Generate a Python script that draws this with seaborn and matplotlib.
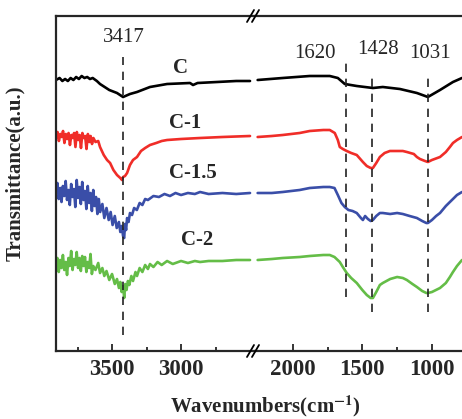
import numpy as np
import matplotlib
matplotlib.use('Agg')
import matplotlib.pyplot as plt
from matplotlib.lines import Line2D
import seaborn as sns
import pandas as pd

# FTIR spectra (wavenumber in cm-1, transmittance in a.u.)
wn_c = [3906, 3880, 3860, 3840, 3820, 3800, 3780, 3760, 3740, 3720, 3700, 3680, 3660, 3640, 3610,
        3587, 3520, 3464, 3420, 3370, 3319, 3225, 3101, 2935, 2913, 2880, 2739, 2600, 2500,
        2252, 2072, 1878, 1734, 1676, 1626, 1540, 1424, 1353, 1230, 1108, 1029, 942, 849, 784]
t_c = [280, 282, 279, 281, 279, 282, 280, 283, 281, 284, 282, 283, 281, 282, 279,
       276, 270, 267, 263, 266, 268, 273, 276, 277, 275, 277, 278, 279, 279,
       280, 282, 284, 284, 282, 276, 274, 272, 273, 271, 267, 263, 270, 278, 282]

wn_c1 = [3906, 3895, 3885, 3875, 3865, 3855, 3845, 3835, 3825, 3815, 3805, 3795, 3785, 3775, 3765,
         3755, 3745, 3735, 3725, 3715, 3705, 3695, 3685, 3675, 3665, 3655, 3645, 3635, 3620, 3600,
         3587, 3560, 3536, 3514, 3490, 3464, 3440, 3428, 3420, 3406, 3391, 3370, 3348, 3319, 3290,
         3260, 3225, 3180, 3140, 3101, 3000, 2862, 2700, 2500,
         2252, 2150, 2072, 1950, 1878, 1780, 1734, 1698, 1676, 1662, 1640, 1612, 1580, 1540, 1496,
         1468, 1440, 1424, 1400, 1374, 1340, 1302, 1250, 1209, 1180, 1130, 1108, 1086, 1050, 1029,
         1000, 942, 900, 871, 849, 820, 784]
t_c1 = [222, 228, 219, 226, 223, 229, 217, 226, 221, 227, 215, 225, 222, 227, 213,
        228, 220, 225, 212, 227, 222, 224, 211, 226, 218, 224, 216, 222, 218, 219,
        213, 205, 200, 197, 190, 185, 182, 180, 183, 184, 187, 195, 200, 203, 209,
        212, 215, 217, 219, 220, 221, 222, 223, 224,
        223, 224, 225, 227, 229, 230, 230, 227, 220, 213, 211, 209, 207, 205, 198,
        194, 192, 192, 197, 203, 207, 209, 209, 209, 208, 206, 203, 201, 199, 198,
        200, 203, 208, 213, 217, 220, 223]

wn_c15 = [3906, 3896, 3886, 3876, 3866, 3856, 3846, 3836, 3826, 3816, 3806, 3796, 3786, 3776, 3766,
          3756, 3746, 3736, 3726, 3716, 3706, 3696, 3686, 3676, 3666, 3656, 3646, 3636, 3626, 3616,
          3606, 3596, 3586, 3570, 3556, 3540, 3524, 3510, 3496, 3480, 3466, 3450, 3440, 3430, 3420,
          3412, 3406, 3398, 3391, 3380, 3370, 3355, 3340, 3320, 3300, 3280, 3260, 3240, 3200, 3160,
          3120, 3080, 3040, 3000, 2950, 2900, 2862, 2800, 2700, 2600, 2500,
          2252, 2150, 2072, 1950, 1878, 1780, 1734, 1700, 1676, 1650, 1626, 1600, 1570, 1540, 1510,
          1496, 1480, 1460, 1440, 1424, 1400, 1374, 1353, 1300, 1250, 1209, 1160, 1108, 1070, 1040,
          1029, 1000, 970, 942, 900, 871, 849, 820, 784]
t_c15 = [168, 177, 161, 172, 158, 174, 164, 179, 160, 170, 155, 176, 163, 171, 153,
         180, 162, 173, 156, 178, 160, 169, 151, 174, 157, 167, 149, 170, 154, 163,
         146, 161, 148, 156, 142, 152, 140, 148, 135, 144, 132, 138, 128, 134, 124,
         122, 136, 130, 142, 138, 147, 145, 152, 150, 157, 155, 161, 160, 164, 163,
         166, 164, 167, 165, 167, 166, 168, 166, 167, 166, 167,
         167, 167, 168, 170, 172, 173, 173, 172, 165, 157, 153, 150, 149, 147, 142,
         140, 144, 141, 139, 140, 144, 147, 147, 146, 147, 146, 144, 142, 139, 137,
         137, 140, 144, 147, 154, 158, 161, 165, 168]

wn_c2 = [3906, 3896, 3886, 3876, 3866, 3856, 3846, 3836, 3826, 3816, 3806, 3796, 3786, 3776, 3766,
         3756, 3746, 3736, 3726, 3716, 3706, 3696, 3686, 3676, 3666, 3656, 3646, 3636, 3620, 3600,
         3587, 3570, 3556, 3540, 3520, 3500, 3480, 3464, 3450, 3440, 3430, 3420, 3412, 3404, 3395,
         3385, 3375, 3360, 3348, 3330, 3319, 3300, 3280, 3260, 3240, 3225, 3200, 3170, 3140, 3101,
         3060, 3000, 2950, 2900, 2862, 2800, 2700, 2600, 2500,
         2252, 2150, 2072, 1950, 1878, 1780, 1734, 1700, 1662, 1640, 1612, 1580, 1540, 1500, 1468,
         1440, 1424, 1400, 1374, 1353, 1300, 1250, 1209, 1180, 1140, 1108, 1070, 1040, 1029, 1000,
         942, 900, 871, 849, 820, 784]
t_c2 = [94, 102, 88, 100, 92, 105, 90, 98, 85, 102, 94, 109, 90, 101, 95,
        108, 92, 102, 89, 104, 94, 103, 88, 98, 92, 106, 86, 94, 90, 97,
        87, 92, 84, 89, 80, 86, 76, 81, 72, 78, 68, 74, 62, 76, 70,
        79, 75, 84, 79, 88, 84, 92, 88, 95, 91, 96, 93, 98, 95, 99,
        96, 99, 97, 99, 98, 99, 99, 100, 100,
        100, 101, 102, 103, 104, 105, 105, 103, 98, 93, 87, 82, 77, 70, 65,
        62, 62, 68, 75, 77, 81, 83, 82, 80, 76, 73, 69, 67, 67, 68,
        72, 77, 83, 88, 94, 100]

labels = ['C', 'C-1', 'C-1.5', 'C-2']
colors = ['#000000', '#f02d28', '#3a4ea8', '#64bd47']
label_wn = [3007, 2971, 2913, 2884]
label_t = [292, 237, 187, 120]

peak_wn = [3417, 1620, 1428, 1031]
peak_top = [303, 302, 287, 287]
peak_bot = [25, 63, 48, 48]
peak_text_wn = [3417, 1842, 1388, 1014]
peak_text_t = [322, 307, 310, 307]

sns.set_style('ticks')
plt.rcParams['font.family'] = ['Liberation Serif', 'DejaVu Serif']
plt.rcParams['mathtext.fontset'] = 'stix'

W, H = 462, 419
fig = plt.figure(figsize=(W / 100, H / 100), dpi=100)
ax1 = fig.add_axes([56 / W, 68 / H, 199 / W, 335 / H])
ax2 = fig.add_axes([255 / W, 68 / H, 207 / W, 335 / H])

all_series = [(wn_c, t_c), (wn_c1, t_c1), (wn_c15, t_c15), (wn_c2, t_c2)]
for (wn, t), col in zip(all_series, colors):
    df = pd.DataFrame({'wn': wn, 't': t})
    hi = df[df.wn > 2400]
    lo = df[df.wn < 2300]
    sns.lineplot(data=hi, x='wn', y='t', ax=ax1, color=col, lw=1.9, sort=False, estimator=None)
    sns.lineplot(data=lo, x='wn', y='t', ax=ax2, color=col, lw=1.9, sort=False, estimator=None)

ax1.set_xlim(3906, 2464)
ax2.set_xlim(2271, 784)
for ax in [ax1, ax2]:
    ax.set_ylim(9, 344)
    ax.set_yticks([])
    ax.set_xlabel('')
    ax.set_ylabel('')
    ax.tick_params(axis='x', which='both', direction='in', top=False, labelsize=16.5,
                   width=1.3, pad=6)
    ax.tick_params(axis='x', which='major', length=5)
    ax.tick_params(axis='x', which='minor', length=3)
    for s in ax.spines.values():
        s.set_linewidth(1.6)

ax1.set_xticks([3500, 3000])
ax1.set_xticks([3750, 3250, 2750], minor=True)
ax2.set_xticks([2000, 1500, 1000])
ax2.set_xticks([1750, 1250], minor=True)
for ax in [ax1, ax2]:
    for lab in ax.get_xticklabels():
        lab.set_fontweight('bold')

ax1.spines['right'].set_visible(False)
ax2.spines['left'].set_visible(False)
ax2.spines['right'].set_visible(False)

# dashed peak markers
for i, p in enumerate(peak_wn):
    ax = ax1 if p > 2400 else ax2
    ax.vlines(p, peak_bot[i], peak_top[i], colors='#222222', lw=1.2, linestyles=(0, (5, 4)))
    ax.text(peak_text_wn[i], peak_text_t[i], str(p), ha='center', va='center', fontsize=15)

for i, lab in enumerate(labels):
    ax1.text(label_wn[i], label_t[i], lab, ha='center', va='center', fontsize=15,
             fontweight='bold')

ax1.set_ylabel('Transmittance(a.u.)', fontsize=15, fontweight='bold')
ax1.yaxis.set_label_coords(-0.156, 0.53)
fig.text(265 / W, 13 / H, 'Wavenumbers(cm$^{\\mathbf{-1}}$)', ha='center', va='center',
         fontsize=15, fontweight='bold')

# axis break marks
for yb in [16, 351]:
    for dx in [0, 5]:
        xs = [(247 + dx) / W, (254 + dx) / W]
        ys = [(H - (yb + 6)) / H, (H - (yb - 6)) / H]
        fig.add_artist(Line2D(xs, ys, transform=fig.transFigure, color='black', lw=1.3))

fig.savefig('out.png', dpi=100)
